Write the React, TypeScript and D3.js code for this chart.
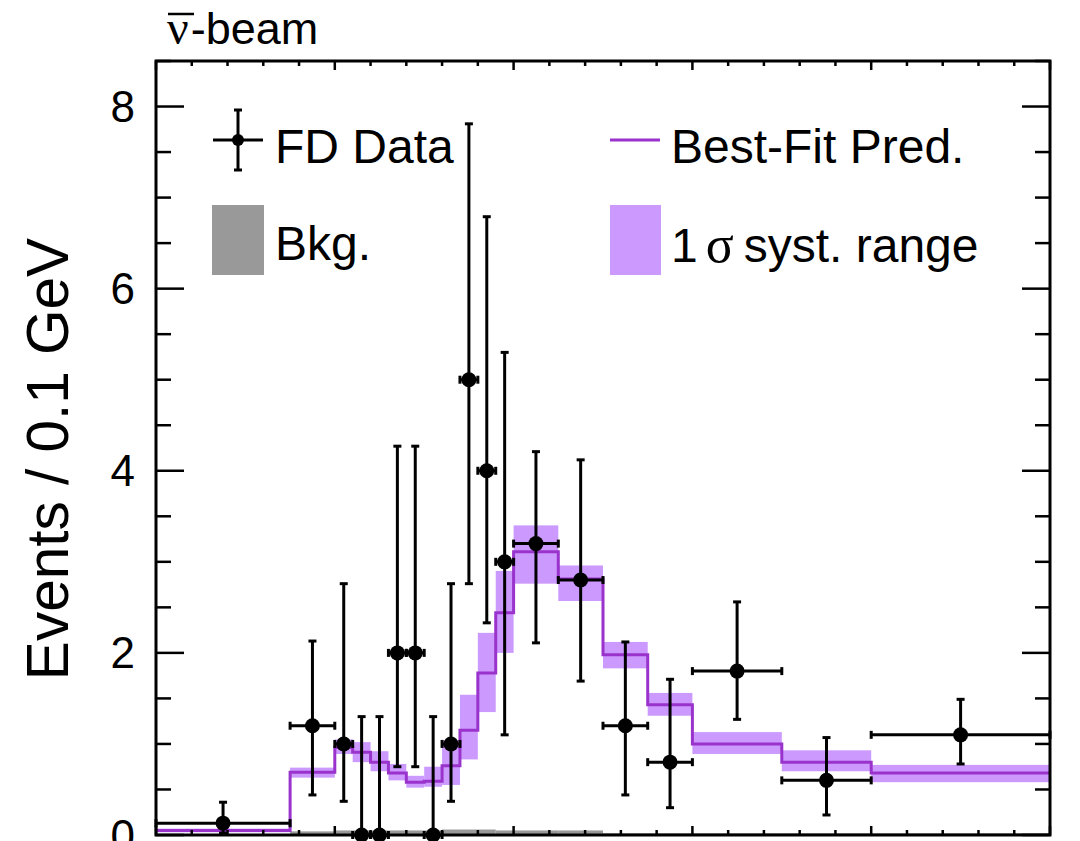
import React from "react";
import * as d3 from "d3";

// ---- data ----
const binEdges = [0, 0.75, 1.0, 1.1, 1.2, 1.3, 1.4, 1.5, 1.6, 1.7, 1.8, 1.9, 2.0, 2.25, 2.5, 2.75, 3.0, 3.5, 4.0, 5.0];
const dataValues = [0.13, 1.2, 1.0, 0, 0, 2.0, 2.0, 0, 1.0, 5.0, 4.0, 3.0, 3.2, 2.8, 1.2, 0.8, 1.8, 0.6, 1.1];
const dataLow = [0.02, 0.44, 0.37, 0, 0, 0.75, 0.75, 0, 0.37, 2.76, 2.33, 1.1, 2.11, 1.69, 0.44, 0.3, 1.27, 0.22, 0.78];
const dataHigh = [0.36, 2.13, 2.76, 1.3, 1.3, 4.27, 4.27, 1.3, 2.76, 7.81, 6.79, 5.3, 4.21, 4.12, 2.12, 1.71, 2.56, 1.07, 1.49];
const predValues = [0.05, 0.69, 0.96, 0.91, 0.8, 0.68, 0.58, 0.59, 0.76, 1.15, 1.78, 2.44, 3.11, 2.81, 1.98, 1.43, 1.0, 0.8, 0.68];
const bandLow = [0.03, 0.63, 0.89, 0.8, 0.7, 0.6, 0.52, 0.53, 0.55, 0.83, 1.35, 2.0, 2.76, 2.57, 1.83, 1.31, 0.89, 0.7, 0.58];
const bandHigh = [0.07, 0.74, 1.05, 1.02, 0.92, 0.78, 0.65, 0.75, 1.04, 1.54, 2.22, 2.9, 3.4, 2.96, 2.12, 1.56, 1.13, 0.93, 0.77];
const bkgValues = [0.0, 0.04, 0.05, 0.05, 0.05, 0.05, 0.05, 0.05, 0.06, 0.06, 0.06, 0.05, 0.05, 0.05, 0.02, 0.02, 0.02, 0.02, 0.02];
const yTickValues = [0, 2, 4, 6, 8];

const W = 1080;
const H = 841;
const L = 156, R = 1050, T = 61, B = 835;

const x = d3.scaleLinear().domain([0, 5]).range([L, R]);
const y = d3.scaleLinear().domain([0, 8.5]).range([B, T]);

const PURPLE = "#9933cc";
const LAVENDER = "#cc99ff";
const GREY = "#999999";
const FONT = "'Liberation Sans', Arial, Helvetica, sans-serif";
const SERIF = "'Liberation Serif', 'Times New Roman', serif";

function stepPath(vals: number[]) {
  let p = "";
  vals.forEach((v, i) => {
    const x0 = x(binEdges[i]);
    const x1 = x(binEdges[i + 1]);
    p += (i === 0 ? `M${x0},${y(v)}` : `L${x0},${y(v)}`) + `L${x1},${y(v)}`;
  });
  return p;
}

export default function App() {
  const bins = dataValues.map((v, i) => ({
    i,
    x0: binEdges[i],
    x1: binEdges[i + 1],
    xc: (binEdges[i] + binEdges[i + 1]) / 2,
    v,
  }));

  const yMinor = d3.range(0, 8.51, 0.5);
  const xMinor = d3.range(0, 5.001, 0.2);
  const xMajor = d3.range(0, 5.001, 1);

  return (
    <svg
      width={W}
      height={H}
      style={{ position: "absolute", left: 0, top: 0, display: "block", background: "#fff" }}
    >
      {/* band */}
      {bins.map((b) => (
        <rect
          key={"band" + b.i}
          x={x(b.x0)}
          y={y(bandHigh[b.i])}
          width={x(b.x1) - x(b.x0)}
          height={y(bandLow[b.i]) - y(bandHigh[b.i])}
          fill={LAVENDER}
        />
      ))}
      {/* background */}
      {bins.map((b) => (
        <rect
          key={"bkg" + b.i}
          x={x(b.x0)}
          y={y(bkgValues[b.i])}
          width={x(b.x1) - x(b.x0)}
          height={y(0) - y(bkgValues[b.i])}
          fill={GREY}
        />
      ))}
      {/* prediction */}
      <path d={stepPath(predValues)} fill="none" stroke={PURPLE} strokeWidth={3} />

      {/* data */}
      {bins.map((b) => {
        const cx = x(b.xc);
        const cy = y(b.v);
        return (
          <g key={"d" + b.i} stroke="#000" strokeWidth={3}>
            <line x1={x(b.x0)} x2={x(b.x1)} y1={cy} y2={cy} />
            <line x1={x(b.x0)} x2={x(b.x0)} y1={cy - 4} y2={cy + 4} />
            <line x1={x(b.x1)} x2={x(b.x1)} y1={cy - 4} y2={cy + 4} />
            <line x1={cx} x2={cx} y1={y(dataHigh[b.i])} y2={y(dataLow[b.i])} />
            <line x1={cx - 4} x2={cx + 4} y1={y(dataHigh[b.i])} y2={y(dataHigh[b.i])} />
            {dataLow[b.i] > 0 && (
              <line x1={cx - 4} x2={cx + 4} y1={y(dataLow[b.i])} y2={y(dataLow[b.i])} />
            )}
            <circle cx={cx} cy={cy} r={7.5} fill="#000" stroke="none" />
          </g>
        );
      })}

      {/* frame ticks */}
      <g stroke="#000" strokeWidth={2.5}>
        {yMinor.map((v) => {
          const major = Math.abs(v % 2) < 1e-6;
          const len = major ? 28 : 15;
          return (
            <g key={"yt" + v}>
              <line x1={L} x2={L + len} y1={y(v)} y2={y(v)} />
              <line x1={R} x2={R - len} y1={y(v)} y2={y(v)} />
            </g>
          );
        })}
        {xMinor.map((v) => {
          const major = xMajor.some((m) => Math.abs(m - v) < 1e-6);
          const len = major ? 9 : 5;
          return (
            <g key={"xt" + v}>
              <line x1={x(v)} x2={x(v)} y1={T} y2={T + len} />
              <line x1={x(v)} x2={x(v)} y1={B} y2={B - len} />
            </g>
          );
        })}
      </g>
      <rect x={L} y={T} width={R - L} height={B - T} fill="none" stroke="#000" strokeWidth={3} />

      {/* y tick labels */}
      {yTickValues.map((v) => (
        <text key={"yl" + v} x={135} y={y(v) + 15.5} textAnchor="end" fontFamily={FONT} fontSize={44} fill="#000">
          {v}
        </text>
      ))}

      {/* y axis title */}
      <text
        transform={`translate(68, ${(238 + 680) / 2}) rotate(-90)`}
        textAnchor="middle"
        fontFamily={FONT}
        fontSize={58.5}
        fill="#000"
      >
        Events / 0.1 GeV
      </text>

      {/* title */}
      <text x={166} y={44} fontFamily={FONT} fontSize={45} fill="#000">
        <tspan fontFamily={SERIF} fontSize={48} dx={1}>ν</tspan>
        <tspan dx={2}>-beam</tspan>
      </text>
      <line x1={168} x2={194} y1={14} y2={14} stroke="#000" strokeWidth={2.5} />

      {/* legend */}
      <g>
        <g stroke="#000" strokeWidth={3}>
          <line x1={213} x2={263} y1={140} y2={140} />
          <line x1={238} x2={238} y1={110} y2={170} />
          <line x1={234} x2={242} y1={110} y2={110} />
          <line x1={234} x2={242} y1={170} y2={170} />
          <circle cx={238} cy={140} r={6} fill="#000" stroke="none" />
        </g>
        <text x={275} y={163} fontFamily={FONT} fontSize={48} fill="#000">FD Data</text>

        <rect x={212} y={205} width={52} height={70} fill={GREY} />
        <text x={275} y={260} fontFamily={FONT} fontSize={48} fill="#000">Bkg.</text>

        <line x1={610} x2={660} y1={140} y2={140} stroke={PURPLE} strokeWidth={3} />
        <text x={671} y={163} fontFamily={FONT} fontSize={48} fill="#000">Best-Fit Pred.</text>

        <rect x={610} y={205} width={51} height={70} fill={LAVENDER} />
        <text x={671} y={262} fontFamily={FONT} fontSize={48} fill="#000">
          <tspan>1</tspan>
          <tspan dx={8} fontFamily={SERIF} fontSize={52}>σ</tspan>
          <tspan dx={10}>syst. range</tspan>
        </text>
      </g>
    </svg>
  );
}
